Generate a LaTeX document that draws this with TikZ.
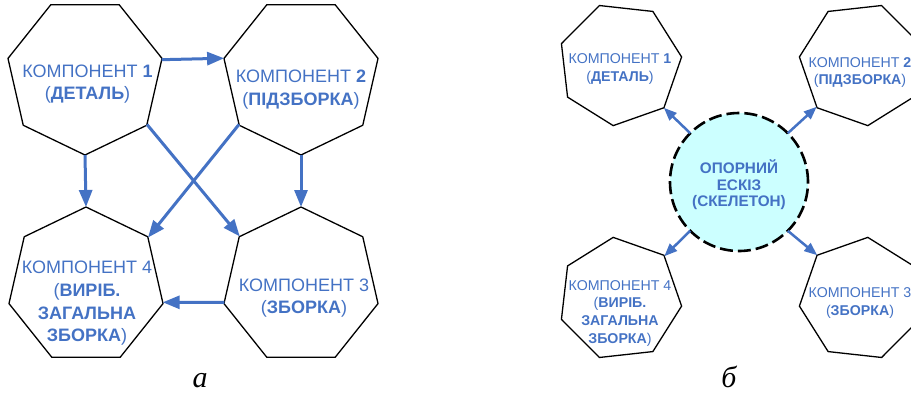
\documentclass[tikz,border=0pt]{standalone}
\usepackage{fontspec}
\setmainfont{Liberation Sans}
\newfontfamily\labelfont{Liberation Serif}
\usetikzlibrary{shapes.geometric,arrows.meta}
\definecolor{arrblue}{RGB}{68,114,196}
\definecolor{skelfill}{RGB}{204,255,255}
\begin{document}
\begin{tikzpicture}[x=1pt,y=-1pt,
  hept/.style={draw=black,line width=1.3pt,regular polygon,regular polygon sides=7,inner sep=0pt,outer sep=0pt},
  bigh/.style={hept,minimum size=158pt},
  smallh/.style={hept,minimum size=124pt},
  bigtxt/.style={text=arrblue,align=center,inner sep=0pt,font=\fontsize{18}{22.6}\selectfont},
  smalltxt/.style={text=arrblue,align=center,inner sep=0pt,font=\fontsize{14.2}{17.8}\selectfont},
  skeltxt/.style={text=arrblue,align=center,inner sep=0pt,font=\bfseries\fontsize{15.3}{16.4}\selectfont},
  arrA/.style={draw=arrblue,line width=3pt,-{Triangle[length=17pt,width=13pt]}},
  arrB/.style={draw=arrblue,line width=2.5pt,-{Triangle[length=13pt,width=10pt]}},
  sublabel/.style={inner sep=0pt,anchor=base,font=\labelfont\itshape\fontsize{30}{30}\selectfont}
]
\useasboundingbox (0,0) rectangle (911,392);
\clip (0,0) rectangle (911,392);

% ---------- part a ----------
\node[bigh,shape border rotate=180] (a1) at (85,76) {};
\node[bigh,shape border rotate=180] (a2) at (301,76) {};
\node[bigh] (a4) at (86,286) {};
\node[bigh] (a3) at (301,286) {};

\node[bigtxt] (ta1) at (87.5,84.1) {КОМПОНЕНТ \textbf{1}\\(\textbf{ДЕТАЛЬ})};
\node[bigtxt] (ta2) at (301,89.8) {КОМПОНЕНТ \textbf{2}\\(\textbf{ПІДЗБОРКА})};
\node[bigtxt] (ta4) at (87,303.3) {КОМПОНЕНТ 4\\(\textbf{ВИРІБ.}\\\textbf{ЗАГАЛЬНА}\\\textbf{ЗБОРКА})};
\node[bigtxt] (ta3) at (304,298) {КОМПОНЕНТ 3\\(\textbf{ЗБОРКА})};

\draw[arrA] (a1.12.857) -- (a2.167.143);
\draw[arrA] (a1.270) -- (a4.90);
\draw[arrA] (a2.270) -- (a3.90);
\draw[arrA] (a1.-38.571) -- (a3.141.429);
\draw[arrA] (a2.218.571) -- (a4.38.571);
\draw[arrA] (a3.192.857) -- (a4.-12.857);

\node[sublabel] (la) at (200,387) {а};

% ---------- part b ----------
\node[smallh,shape border rotate=19.4] (b1) at (620,64) {};
\node[smallh,shape border rotate=-19.4] (b2) at (861,64) {};
\node[smallh,shape border rotate=6.3] (b4) at (620,299) {};
\node[smallh,shape border rotate=-6.3] (b3) at (861,299) {};

\node[smalltxt] (tb1) at (620,69.4) {КОМПОНЕНТ \textbf{1}\\(\textbf{ДЕТАЛЬ})};
\node[smalltxt] (tb2) at (860,72.6) {КОМПОНЕНТ \textbf{2}\\(\textbf{ПІДЗБОРКА})};
\node[smalltxt] (tb4) at (620,313.4) {КОМПОНЕНТ 4\\(\textbf{ВИРІБ.}\\\textbf{ЗАГАЛЬНА}\\\textbf{ЗБОРКА})};
\node[smalltxt] (tb3) at (860,303) {КОМПОНЕНТ 3\\(\textbf{ЗБОРКА})};

\node[circle,draw=black,fill=skelfill,line width=2.6pt,dash pattern=on 13pt off 5pt,
      minimum size=138pt,inner sep=0pt,outer sep=0pt] (sk) at (739,182) {};
\node[skeltxt] (skt) at (739,184.8) {ОПОРНИЙ\\ЕСКІЗ\\(СКЕЛЕТОН)};

\draw[arrB] (sk.135) -- (b1.315.1);
\draw[arrB] (sk.45) -- (b2.224.9);
\draw[arrB] (sk.225) -- (b4.44.9);
\draw[arrB] (sk.315) -- (b3.135.1);

\node[sublabel] (lb) at (729,387) {б};
\end{tikzpicture}
\end{document}
